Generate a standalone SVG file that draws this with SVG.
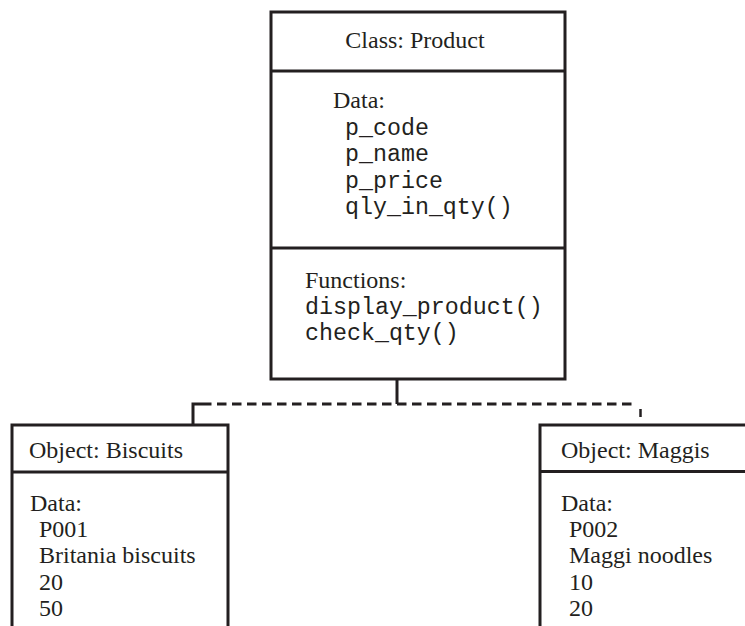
<svg xmlns="http://www.w3.org/2000/svg" width="745" height="626" viewBox="0 0 745 626">
<style>
.box{fill:none;stroke:#231f20;stroke-width:3}
.div{stroke:#231f20;stroke-width:3}
.serif{font-family:"Liberation Serif","Times New Roman",serif;font-size:24px;fill:#231f20}
.mono{font-family:"Liberation Mono","Courier New",monospace;font-size:23.3px;fill:#231f20}
.conn{fill:none;stroke:#231f20;stroke-width:3}
.dash{stroke-dasharray:9.5 5.5}
</style>
<rect width="745" height="626" fill="#ffffff"/>
<g id="class-product">
<rect class="box" x="271" y="12" width="294" height="367"/>
<line class="div" x1="271" y1="71" x2="565" y2="71"/>
<line class="div" x1="271" y1="248" x2="565" y2="248"/>
<text class="serif" x="415" y="48" text-anchor="middle">Class: Product</text>
<text class="serif" x="333" y="108">Data:</text>
<text class="mono" x="345" y="134.5">p_code</text>
<text class="mono" x="345" y="161">p_name</text>
<text class="mono" x="345" y="187.5">p_price</text>
<text class="mono" x="345" y="214">qly_in_qty()</text>
<text class="serif" x="305" y="288">Functions:</text>
<text class="mono" x="305" y="314">display_product()</text>
<text class="mono" x="305" y="340">check_qty()</text>
</g>
<g id="object-biscuits">
<path class="box" d="M12,630 V425 H228 V630"/>
<line class="div" x1="12" y1="472" x2="228" y2="472"/>
<text class="serif" x="29" y="458">Object: Biscuits</text>
<text class="serif" x="30" y="510.5">Data:</text>
<text class="serif" x="39" y="537">P001</text>
<text class="serif" x="39" y="563">Britania biscuits</text>
<text class="serif" x="39" y="590">20</text>
<text class="serif" x="39" y="616">50</text>
</g>
<g id="object-maggis">
<path class="box" d="M540,630 V425 H750"/>
<line class="div" x1="540" y1="471.5" x2="750" y2="471.5"/>
<text class="serif" x="561" y="458">Object: Maggis</text>
<text class="serif" x="561" y="510.5">Data:</text>
<text class="serif" x="569" y="537">P002</text>
<text class="serif" x="569" y="563">Maggi noodles</text>
<text class="serif" x="569" y="590">10</text>
<text class="serif" x="569" y="616">20</text>
</g>
<g id="connectors">
<line class="conn" x1="397" y1="379" x2="397" y2="404"/>
<path class="conn" d="M193,425 V404 H202"/>
<line class="conn dash" x1="202" y1="404" x2="635" y2="404"/>
<line x1="640.5" y1="409" x2="640.5" y2="417" stroke="#231f20" stroke-width="2.5"/>
</g>
</svg>
